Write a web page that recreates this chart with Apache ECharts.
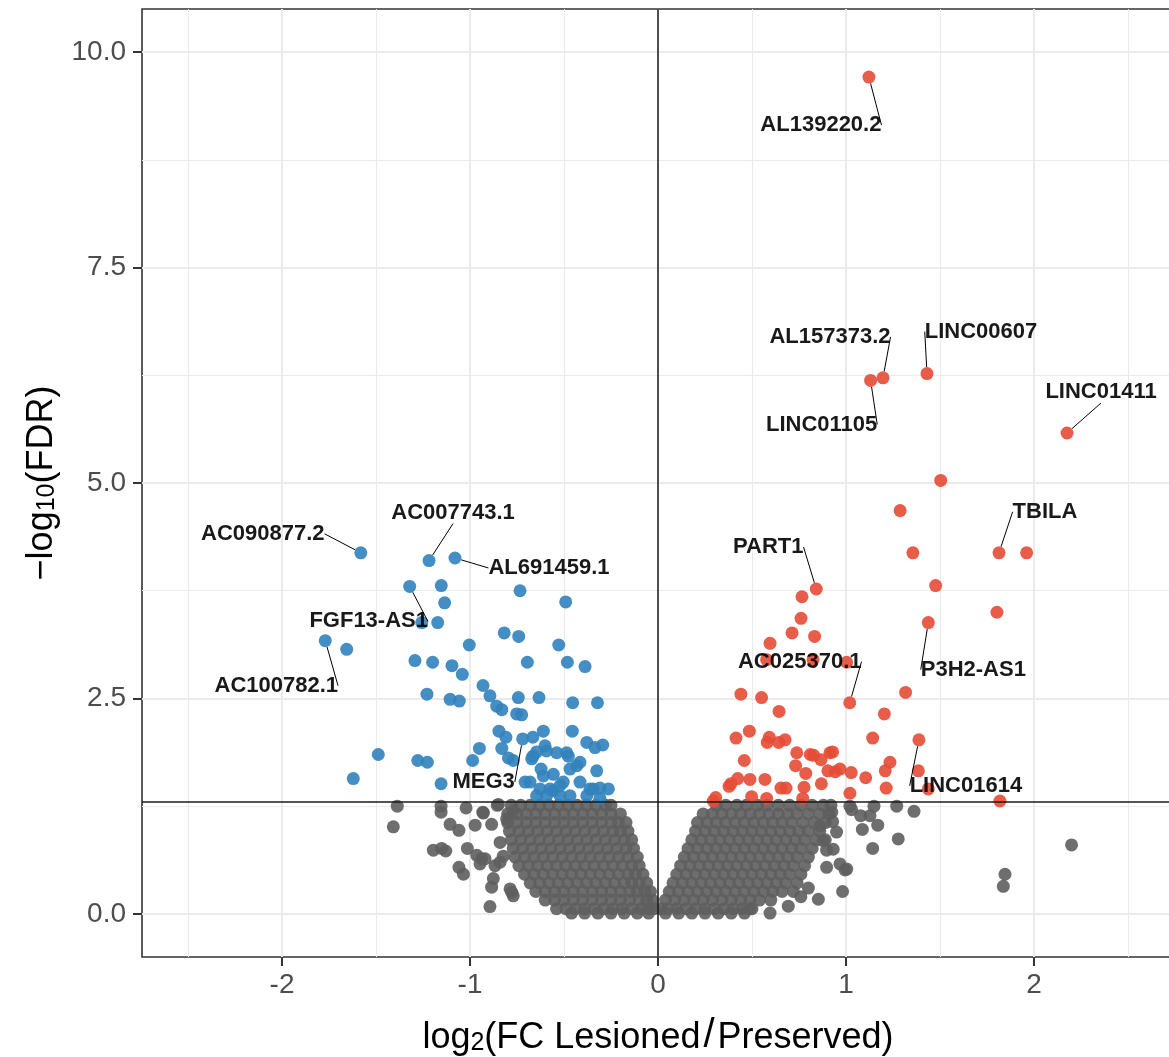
<!DOCTYPE html>
<html>
<head>
<meta charset="utf-8">
<title>Volcano plot</title>
<script src="https://cdn.jsdelivr.net/npm/echarts@6/dist/echarts.min.js"></script>
<style>
  html, body { margin: 0; padding: 0; background: #fff; }
  #chart { width: 1169px; height: 1057px; }
</style>
</head>
<body>
<div id="chart"></div>
<script>
// axis breaks
const xTicks = [-2, -1, 0, 1, 2];
const yTicks = [0, 2.5, 5, 7.5, 10];
const xMinorTicks = [-2.5, -1.5, -0.5, 0.5, 1.5, 2.5];
const yMinorTicks = [1.25, 3.75, 6.25, 8.75];
const fdrCutoff = 1.30103; // -log10(0.05)

// labelled genes [log2FC, -log10 FDR]
const labelNames = ['AL139220.2', 'AL157373.2', 'LINC01105', 'LINC00607', 'LINC01411', 'TBILA',
  'PART1', 'AC025370.1', 'P3H2-AS1', 'LINC01614', 'MEG3', 'AC090877.2', 'AC007743.1',
  'AL691459.1', 'FGF13-AS1', 'AC100782.1'];
const labelPoints = [[1.122, 9.71], [1.197, 6.22], [1.131, 6.19], [1.431, 6.27], [2.176, 5.58], [1.814, 4.19],
  [0.842, 3.77], [1.02, 2.45], [1.438, 3.38], [1.388, 2.02], [-0.72, 2.03], [-1.581, 4.19], [-1.218, 4.10],
  [-1.080, 4.13], [-1.321, 3.80], [-1.770, 3.17]];

// up-regulated, significant
const upPoints = [
  [1.504, 5.03], [1.288, 4.68], [1.356, 4.19], [1.961, 4.19], [1.477, 3.81], [0.766, 3.68], [1.803, 3.50],
  [0.761, 3.43], [0.713, 3.26], [0.833, 3.22], [0.596, 3.14], [0.578, 2.95], [0.825, 2.95], [1.003, 2.92],
  [0.441, 2.55], [0.551, 2.51], [1.317, 2.57], [0.644, 2.35], [1.204, 2.32], [0.486, 2.12], [0.415, 2.04],
  [0.592, 2.05], [0.581, 1.99], [0.642, 1.99], [0.676, 2.02], [1.142, 2.04], [0.738, 1.87], [0.81, 1.85],
  [0.828, 1.84], [0.867, 1.79], [0.915, 1.87], [0.929, 1.88], [0.459, 1.78], [0.732, 1.72], [0.786, 1.63],
  [0.904, 1.66], [0.943, 1.65], [0.968, 1.68], [1.028, 1.64], [1.105, 1.58], [1.234, 1.76], [1.209, 1.66],
  [1.385, 1.66], [1.214, 1.46], [1.021, 1.40], [0.77, 1.34], [0.869, 1.51], [0.777, 1.47], [0.654, 1.46],
  [0.681, 1.46], [0.569, 1.56], [0.498, 1.36], [0.489, 1.56], [0.424, 1.57], [0.388, 1.51], [0.378, 1.48],
  [0.307, 1.35], [0.294, 1.31], [0.578, 1.34], [1.819, 1.31], [1.438, 1.45]
];

// down-regulated, significant
const downPoints = [
  [-1.153, 3.81], [-1.135, 3.61], [-0.734, 3.75], [-0.491, 3.62], [-1.257, 3.38], [-1.172, 3.38],
  [-1.656, 3.07], [-0.818, 3.26], [-0.741, 3.22], [-1.004, 3.12], [-0.528, 3.12], [-1.293, 2.94],
  [-1.199, 2.92], [-1.096, 2.88], [-1.041, 2.78], [-0.695, 2.92], [-0.482, 2.92], [-0.388, 2.87],
  [-1.229, 2.55], [-1.106, 2.49], [-1.057, 2.47], [-0.931, 2.65], [-0.894, 2.53], [-0.743, 2.51],
  [-0.633, 2.51], [-0.454, 2.45], [-0.322, 2.45], [-0.858, 2.41], [-0.831, 2.37], [-0.752, 2.32],
  [-0.725, 2.31], [-0.846, 2.12], [-0.809, 2.05], [-0.666, 2.05], [-0.61, 2.12], [-0.456, 2.12],
  [-0.379, 1.99], [-0.335, 1.93], [-0.294, 1.96], [-1.488, 1.85], [-1.278, 1.78], [-1.227, 1.76],
  [-0.95, 1.92], [-0.986, 1.78], [-0.831, 1.92], [-0.796, 1.81], [-0.77, 1.78], [-1.621, 1.57],
  [-1.154, 1.51], [-0.707, 1.53], [-0.665, 1.83], [-0.601, 1.95], [-0.539, 1.87], [-0.477, 1.83],
  [-0.432, 1.72], [-0.61, 1.60], [-0.504, 1.53], [-0.415, 1.53], [-0.344, 1.45], [-0.264, 1.45],
  [-0.326, 1.66], [-0.681, 1.53], [-0.628, 1.45], [-0.557, 1.43], [-0.468, 1.37], [-0.379, 1.37],
  [-0.309, 1.34], [-0.646, 1.37], [-0.593, 1.37], [-0.521, 1.37], [-0.622, 1.68], [-0.557, 1.62],
  [-0.468, 1.68], [-0.415, 1.76], [-0.672, 1.80], [-0.646, 1.88], [-0.593, 1.89], [-0.486, 1.87],
  [-0.574, 1.45], [-0.521, 1.49], [-0.362, 1.45], [-0.309, 1.46]
];

// not significant: the dense core, row by row [-log10 FDR, log2FC values]
const nsRows = [
  [1.26, [-0.78, -0.73, -0.68, -0.63, -0.58, -0.53, -0.48, -0.43, -0.38, -0.33, -0.28, -0.25]],
  [1.16, [-0.80, -0.75, -0.70, -0.65, -0.60, -0.55, -0.50, -0.45, -0.40, -0.35, -0.30, -0.25, -0.20]],
  [1.06, [-0.80, -0.75, -0.70, -0.65, -0.60, -0.55, -0.50, -0.45, -0.40, -0.35, -0.30, -0.25, -0.21, -0.17]],
  [0.96, [-0.79, -0.74, -0.69, -0.64, -0.59, -0.54, -0.49, -0.44, -0.39, -0.34, -0.29, -0.24, -0.20, -0.16]],
  [0.86, [-0.78, -0.73, -0.68, -0.63, -0.58, -0.53, -0.48, -0.43, -0.38, -0.33, -0.28, -0.23, -0.18, -0.14]],
  [0.76, [-0.77, -0.72, -0.67, -0.62, -0.57, -0.52, -0.47, -0.42, -0.37, -0.32, -0.27, -0.22, -0.17, -0.13]],
  [0.66, [-0.76, -0.71, -0.66, -0.61, -0.56, -0.51, -0.46, -0.41, -0.36, -0.31, -0.26, -0.21, -0.16, -0.11]],
  [0.56, [-0.74, -0.69, -0.64, -0.59, -0.54, -0.49, -0.44, -0.39, -0.34, -0.29, -0.24, -0.19, -0.14, -0.10]],
  [0.46, [-0.71, -0.66, -0.61, -0.56, -0.51, -0.46, -0.41, -0.36, -0.31, -0.26, -0.21, -0.16, -0.12, -0.08]],
  [0.36, [-0.68, -0.63, -0.58, -0.53, -0.48, -0.43, -0.38, -0.33, -0.28, -0.23, -0.18, -0.14, -0.10, -0.06]],
  [0.26, [-0.65, -0.60, -0.55, -0.50, -0.45, -0.40, -0.35, -0.30, -0.25, -0.20, -0.15, -0.11, -0.07, -0.04]],
  [0.16, [-0.60, -0.55, -0.50, -0.45, -0.40, -0.35, -0.30, -0.25, -0.20, -0.15, -0.10, -0.06, -0.03]],
  [0.06, [-0.54, -0.49, -0.44, -0.39, -0.34, -0.29, -0.24, -0.19, -0.14, -0.09, -0.05, -0.02]],
  [0.01, [-0.46, -0.39, -0.32, -0.25, -0.18, -0.11, -0.05]],
  [1.26, [0.31, 0.36, 0.42, 0.47, 0.53, 0.58, 0.64, 0.70, 0.76, 0.82, 0.88, 0.92]],
  [1.16, [0.24, 0.29, 0.34, 0.39, 0.44, 0.49, 0.54, 0.59, 0.64, 0.69, 0.74, 0.80, 0.86, 0.91]],
  [1.06, [0.21, 0.26, 0.31, 0.36, 0.41, 0.46, 0.51, 0.56, 0.61, 0.66, 0.71, 0.77, 0.83, 0.89]],
  [0.96, [0.20, 0.25, 0.30, 0.35, 0.40, 0.45, 0.50, 0.55, 0.60, 0.65, 0.70, 0.75, 0.80, 0.86]],
  [0.86, [0.18, 0.23, 0.28, 0.33, 0.38, 0.43, 0.48, 0.53, 0.58, 0.63, 0.68, 0.73, 0.78, 0.84, 0.89]],
  [0.76, [0.16, 0.21, 0.26, 0.31, 0.36, 0.41, 0.46, 0.51, 0.56, 0.61, 0.66, 0.71, 0.76, 0.82]],
  [0.66, [0.14, 0.19, 0.24, 0.29, 0.34, 0.39, 0.44, 0.49, 0.54, 0.59, 0.64, 0.69, 0.74, 0.80]],
  [0.56, [0.12, 0.17, 0.22, 0.27, 0.32, 0.37, 0.42, 0.47, 0.52, 0.57, 0.62, 0.67, 0.72, 0.78]],
  [0.46, [0.10, 0.15, 0.20, 0.25, 0.30, 0.35, 0.40, 0.45, 0.50, 0.55, 0.60, 0.65, 0.70, 0.76]],
  [0.36, [0.08, 0.13, 0.18, 0.23, 0.28, 0.33, 0.38, 0.43, 0.48, 0.53, 0.58, 0.63, 0.68, 0.74]],
  [0.26, [0.06, 0.11, 0.16, 0.21, 0.26, 0.31, 0.36, 0.41, 0.46, 0.51, 0.56, 0.61, 0.66, 0.72]],
  [0.16, [0.04, 0.09, 0.14, 0.19, 0.24, 0.29, 0.34, 0.39, 0.44, 0.49, 0.54, 0.60]],
  [0.06, [0.015, 0.05, 0.10, 0.15, 0.20, 0.25, 0.30, 0.35, 0.40, 0.45, 0.50]],
  [0.01, [0.04, 0.11, 0.18, 0.25, 0.32, 0.39, 0.46]]
];

// not significant: scattered points around the core
const nsPoints = [
  [-1.387, 1.25], [-1.408, 1.01], [-1.154, 1.25], [-1.154, 1.18], [-1.021, 1.23], [-1.106, 1.04],
  [-1.059, 0.97], [-0.973, 1.03], [-0.929, 1.17], [-0.855, 1.26], [-0.885, 1.04], [-1.195, 0.74],
  [-1.151, 0.76], [-1.129, 0.73], [-1.014, 0.76], [-0.964, 0.68], [-0.938, 0.64], [-1.059, 0.54],
  [-1.035, 0.46], [-0.894, 0.085], [-0.885, 0.31], [-0.778, 0.25], [-0.867, 0.56], [-0.84, 0.6],
  [-0.84, 0.83], [-0.805, 1.10], [-0.876, 0.41], [-0.92, 0.64], [-0.947, 0.58], [-0.823, 0.67],
  [-0.787, 0.29], [-0.77, 0.21], [-0.932, 1.18], [-0.849, 1.27], [-0.77, 1.2],
  [2.2, 0.80], [1.846, 0.46], [1.837, 0.32], [1.278, 0.87], [1.142, 0.76], [1.362, 1.19], [1.27, 1.25],
  [1.149, 1.25], [1.021, 1.25], [1.03, 1.21], [1.078, 1.14], [1.128, 1.14], [1.087, 0.98], [1.169, 1.03],
  [0.982, 0.26], [0.853, 0.17], [0.693, 0.09], [0.596, 0.01], [0.489, 0.06], [0.897, 0.74], [0.968, 0.58],
  [0.995, 0.51], [0.879, 0.85], [0.862, 1.02], [0.929, 1.07], [0.924, 1.18], [0.932, 0.75], [0.897, 0.54],
  [1.004, 0.52], [0.95, 0.95], [0.80, 0.30], [0.76, 0.2]
];

// label placement, px offset of each label from its point
const labelShift = {
  'AL139220.2': [-48, 48], 'AL157373.2': [-53, -41], 'LINC01105': [-49, 44], 'LINC00607': [54, -42],
  'LINC01411': [34, -41], 'TBILA': [46, -41], 'PART1': [-48, -42], 'AC025370.1': [-50, -41],
  'P3H2-AS1': [45, 47], 'LINC01614': [47, 46], 'MEG3': [-39, 43], 'AC090877.2': [-98, -19],
  'AC007743.1': [24, -48], 'AL691459.1': [94, 10], 'FGF13-AS1': [-41, 35], 'AC100782.1': [-49, 45]
};

const FONT = '"Liberation Sans", Arial, sans-serif';
const RED = '#e64b35';
const BLUE = '#3182bd';
const GREY = '#5e5e5e';

const nsData = nsRows.flatMap(([y, xs]) => xs.map(x => [x, y])).concat(nsPoints);

const gridLine = (key, v, width) => ({ [key]: v, lineStyle: { color: '#ebebeb', width: width, type: 'solid' } });
const gridLines = [].concat(
  xMinorTicks.map(v => gridLine('xAxis', v, 1.1)),
  yMinorTicks.map(v => gridLine('yAxis', v, 1.1)),
  xTicks.map(v => gridLine('xAxis', v, 2)),
  yTicks.map(v => gridLine('yAxis', v, 2))
);

const titleRich = {
  t: { fontSize: 36, fontFamily: FONT, color: '#000', verticalAlign: 'bottom', lineHeight: 54 },
  s: { fontSize: 25, fontFamily: FONT, color: '#000', verticalAlign: 'bottom', lineHeight: 18 },
  sl: { fontSize: 40, fontFamily: FONT, color: '#000', verticalAlign: 'bottom', lineHeight: 58, padding: [0, 3] }
};

const myChart = echarts.init(document.getElementById('chart'));

const option = {
  animation: false,
  grid: {
    left: 142, right: -5, top: 9, bottom: 100,
    outerBoundsMode: 'none',
    show: true, borderColor: '#333', borderWidth: 1.6, backgroundColor: '#fff'
  },
  xAxis: {
    type: 'value', min: -2.745, max: 2.745,
    axisLine: { show: false, onZero: false },
    axisTick: { show: true, length: 9, customValues: xTicks, lineStyle: { color: '#333', width: 2 } },
    axisLabel: { customValues: xTicks, margin: 14, fontSize: 28, color: '#4d4d4d', fontFamily: FONT },
    splitLine: { show: false },
    name: '{t|log}{s|2}{t|(FC Lesioned}{sl|/}{t|Preserved)}',
    nameLocation: 'middle', nameGap: 41,
    nameTextStyle: { rich: titleRich }
  },
  yAxis: {
    type: 'value', min: -0.5, max: 10.5,
    axisLine: { show: false, onZero: false },
    axisTick: { show: true, length: 9, customValues: yTicks, lineStyle: { color: '#333', width: 2 } },
    axisLabel: {
      customValues: yTicks, margin: 16, fontSize: 28, color: '#4d4d4d', fontFamily: FONT,
      formatter: v => v.toFixed(1)
    },
    splitLine: { show: false },
    name: '{t|\u2212log}{s|10}{t|(FDR)}',
    nameLocation: 'middle', nameGap: 82, nameRotate: 90,
    nameTextStyle: { rich: titleRich }
  },
  series: [
    {
      name: 'grid', type: 'scatter', data: [], z: 1, silent: true,
      markLine: { z: 1, silent: true, symbol: ['none', 'none'], label: { show: false }, data: gridLines }
    },
    {
      name: 'NS', type: 'scatter', data: nsData, symbolSize: 13, z: 2,
      itemStyle: { color: GREY, opacity: 0.9 }
    },
    {
      name: 'Down', type: 'scatter', data: downPoints, symbolSize: 13, z: 2,
      itemStyle: { color: BLUE, opacity: 0.9 }
    },
    {
      name: 'Up', type: 'scatter', data: upPoints, symbolSize: 13, z: 2,
      itemStyle: { color: RED, opacity: 0.9 }
    },
    {
      name: 'cutoff', type: 'scatter', data: [], z: 4, silent: true,
      markLine: {
        z: 4, silent: true, symbol: ['none', 'none'], label: { show: false },
        lineStyle: { color: '#1a1a1a', width: 1.5, type: 'solid' },
        data: [{ xAxis: 0 }, { yAxis: fdrCutoff }]
      }
    },
    {
      name: 'Labelled', type: 'scatter', z: 6, symbolSize: 13,
      data: labelNames.map((n, i) => ({ name: n, value: labelPoints[i] })),
      itemStyle: { color: p => (p.value[0] > 0 ? RED : BLUE), opacity: 0.9 },
      label: {
        show: true, position: 'inside', formatter: '{b}',
        fontSize: 22, fontWeight: 'bold', color: '#000', fontFamily: FONT
      },
      labelLayout: p => {
        const s = labelShift[labelNames[p.dataIndex]];
        return { dx: s[0], dy: s[1] };
      },
      labelLine: { show: true, lineStyle: { color: '#000', width: 1 } }
    }
  ]
};

myChart.setOption(option);
window.addEventListener('resize', () => myChart.resize());
</script>
</body>
</html>
